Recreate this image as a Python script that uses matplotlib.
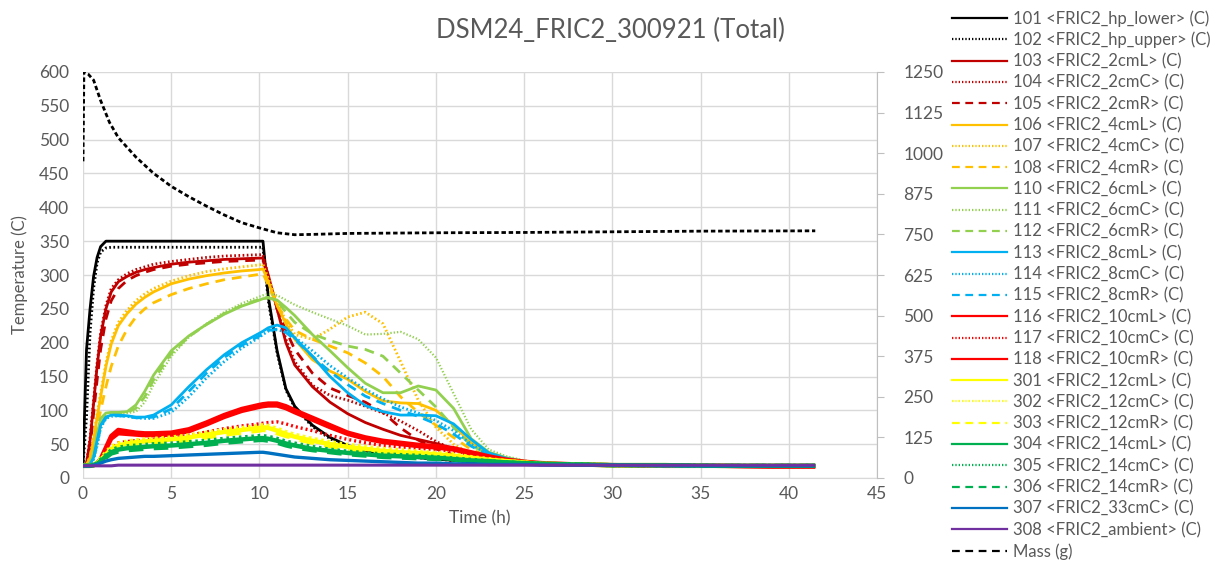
import matplotlib
matplotlib.use("Agg")
import matplotlib.pyplot as plt
from matplotlib.lines import Line2D

plt.rcParams['font.family'] = ['Lato', 'DejaVu Sans']

# ---------------- data ----------------
time_h = [0, 0.2, 0.4, 0.6, 0.8, 1.0, 1.3, 1.6, 2, 2.5, 3, 3.5, 4, 5, 6, 7, 8, 9, 10, 10.2,
          10.5, 11, 11.5, 12, 13, 14, 15, 16, 17, 18, 19, 20, 21, 22, 23, 24, 25, 26, 28, 30,
          33, 36, 39, 41.5]

s101 = [18, 190, 250, 298, 326, 342, 350, 350, 350, 350, 350, 350, 350, 350, 350, 350, 350, 350, 350, 350,
        268, 188, 132, 106, 78, 60, 48, 41, 36, 33, 30, 28, 26, 24, 23, 22, 21, 20, 20, 19, 19, 18, 18, 18]
s102 = [18, 90, 215, 280, 318, 334, 340, 341, 341, 341, 341, 341, 341, 341, 341, 341, 341, 341, 341, 341,
        262, 185, 130, 104, 76, 58, 47, 40, 35, 33, 30, 28, 26, 24, 23, 22, 21, 20, 20, 19, 19, 18, 18, 18]
s103 = [18, 22, 55, 110, 165, 210, 250, 275, 290, 298, 304, 308, 311, 316, 319, 321, 323, 324, 325, 325,
        300, 250, 200, 167, 135, 112, 95, 82, 72, 63, 57, 51, 44, 36, 30, 26, 23, 21, 20, 19, 19, 18, 18, 17]
s104 = [18, 22, 60, 115, 170, 215, 255, 280, 293, 302, 308, 312, 316, 320, 323, 326, 328, 329, 330, 330,
        298, 250, 205, 172, 137, 122, 115, 106, 96, 84, 70, 54, 42, 33, 27, 24, 22, 20, 20, 19, 19, 18, 18, 17]
s105 = [18, 20, 45, 95, 145, 190, 235, 262, 280, 292, 299, 304, 308, 313, 316, 318, 320, 321, 322, 322,
        295, 250, 218, 190, 155, 133, 122, 112, 97, 74, 56, 43, 34, 28, 25, 23, 21, 20, 20, 19, 19, 18, 18, 17]
s106 = [18, 20, 30, 55, 90, 120, 165, 198, 225, 243, 257, 267, 275, 287, 294, 299, 303, 306, 308, 309,
        290, 255, 228, 205, 175, 158, 146, 128, 114, 111, 110, 100, 78, 52, 36, 28, 24, 21, 20, 19, 19, 18, 18, 18]
s107 = [18, 20, 32, 60, 95, 125, 170, 203, 230, 248, 262, 272, 280, 291, 299, 305, 309, 312, 315, 316,
        295, 260, 232, 212, 205, 220, 238, 245, 228, 172, 115, 75, 50, 36, 28, 24, 22, 20, 20, 19, 19, 18, 18, 18]
s108 = [18, 19, 25, 45, 75, 100, 135, 165, 195, 220, 238, 250, 259, 271, 280, 287, 293, 297, 301, 302,
        285, 255, 235, 218, 205, 195, 185, 170, 150, 120, 97, 78, 60, 42, 32, 26, 22, 20, 20, 19, 19, 18, 18, 18]
s110 = [18, 18, 22, 35, 65, 88, 96, 97, 97, 98, 108, 128, 152, 188, 210, 227, 242, 254, 263, 265,
        266, 263, 252, 240, 212, 188, 163, 140, 126, 126, 136, 130, 103, 58, 38, 30, 25, 22, 20, 19, 19, 18, 18, 18]
s111 = [18, 18, 19, 25, 45, 72, 90, 95, 96, 96, 98, 112, 138, 180, 208, 228, 245, 258, 268, 270,
        272, 270, 263, 256, 245, 235, 225, 212, 213, 216, 205, 178, 125, 72, 42, 32, 26, 22, 20, 19, 19, 18, 18, 18]
s112 = [18, 18, 20, 30, 55, 80, 93, 96, 96, 97, 103, 120, 145, 184, 209, 227, 243, 255, 264, 266,
        267, 262, 245, 230, 213, 203, 195, 190, 180, 155, 130, 105, 75, 48, 35, 28, 24, 21, 20, 19, 19, 18, 18, 18]
s113 = [18, 18, 20, 30, 55, 78, 90, 93, 93, 92, 90, 90, 93, 108, 135, 160, 182, 200, 214, 217,
        222, 226, 222, 207, 180, 150, 126, 107, 98, 93, 93, 92, 80, 57, 37, 29, 24, 21, 20, 19, 19, 18, 18, 18]
s114 = [18, 18, 19, 28, 50, 74, 88, 91, 92, 91, 89, 88, 88, 97, 120, 148, 172, 192, 208, 212,
        217, 219, 216, 208, 188, 166, 148, 131, 117, 105, 96, 85, 70, 50, 35, 28, 23, 21, 20, 19, 19, 18, 18, 18]
s115 = [18, 18, 19, 29, 52, 76, 89, 92, 92, 91, 89, 89, 90, 102, 128, 155, 178, 196, 210, 213,
        218, 220, 215, 205, 180, 157, 138, 121, 110, 100, 91, 80, 65, 47, 34, 27, 23, 21, 20, 19, 19, 18, 18, 18]
s116 = [18, 18, 18, 19, 22, 28, 45, 62, 71, 69, 67, 66, 66, 67, 72, 82, 93, 102, 108, 109,
        110, 110, 106, 100, 89, 78, 67, 60, 55, 52, 49, 47, 44, 38, 32, 27, 24, 22, 20, 19, 18, 18, 17, 17]
s117 = [18, 18, 18, 19, 19, 22, 30, 42, 52, 54, 55, 56, 57, 59, 63, 68, 73, 77, 80, 81,
        82, 83, 80, 76, 70, 63, 57, 52, 48, 46, 44, 42, 40, 33, 29, 26, 23, 21, 20, 19, 18, 18, 17, 17]
s118 = [18, 18, 18, 19, 21, 26, 42, 58, 66, 65, 64, 63, 63, 64, 69, 79, 90, 99, 105, 106,
        107, 107, 103, 97, 86, 75, 65, 58, 53, 50, 47, 45, 42, 36, 31, 26, 23, 21, 20, 19, 18, 18, 17, 17]
s301 = [18, 18, 18, 19, 22, 27, 35, 43, 48, 51, 53, 54, 55, 57, 60, 64, 68, 71, 74, 75,
        74, 70, 65, 61, 55, 50, 46, 43, 40, 38, 37, 35, 33, 30, 27, 25, 23, 21, 20, 19, 19, 18, 18, 18]
s302 = [18, 18, 18, 19, 23, 29, 38, 46, 51, 54, 56, 57, 58, 60, 63, 67, 71, 74, 77, 78,
        77, 73, 68, 64, 58, 53, 49, 46, 43, 41, 39, 37, 35, 31, 28, 25, 23, 21, 20, 19, 19, 18, 18, 18]
s303 = [18, 18, 18, 19, 21, 25, 32, 39, 44, 47, 49, 50, 51, 53, 56, 60, 64, 67, 70, 71,
        70, 66, 62, 58, 52, 47, 43, 40, 38, 36, 35, 33, 31, 29, 26, 24, 22, 21, 20, 19, 19, 18, 18, 18]
s304 = [18, 18, 18, 19, 21, 25, 32, 38, 42, 44, 45, 46, 47, 48, 50, 52, 55, 57, 59, 59,
        58, 55, 51, 48, 43, 40, 37, 35, 33, 32, 31, 30, 28, 26, 25, 23, 22, 21, 20, 19, 19, 18, 18, 18]
s305 = [18, 18, 18, 19, 22, 27, 34, 41, 45, 47, 48, 49, 50, 51, 53, 55, 58, 60, 62, 62,
        61, 58, 54, 51, 46, 42, 39, 37, 35, 34, 33, 31, 29, 27, 25, 23, 22, 21, 20, 19, 19, 18, 18, 18]
s306 = [18, 18, 18, 19, 20, 24, 30, 36, 39, 41, 42, 43, 44, 45, 47, 49, 52, 54, 56, 56,
        55, 52, 48, 45, 41, 38, 35, 33, 31, 30, 29, 28, 27, 25, 24, 23, 22, 21, 20, 19, 19, 18, 18, 18]
s307 = [18, 18, 18, 19, 20, 22, 25, 27, 29, 30, 31, 32, 32, 33, 34, 35, 36, 37, 38, 38,
        37, 35, 33, 31, 29, 27, 26, 25, 24, 23, 22, 22, 21, 21, 20, 20, 20, 19, 19, 19, 18, 18, 18, 18]
s308 = [18, 18, 18, 18, 18, 18, 18, 18, 19, 19, 19, 19, 19, 19, 19, 19, 19, 19, 19, 19,
        19, 19, 19, 19, 19, 19, 19, 19, 19, 19, 19, 19, 19, 19, 19, 19, 19, 19, 19, 19, 19, 19, 19, 19]

mass_t = [0, 0.05, 0.3, 0.6, 1.0, 1.5, 2, 3, 4, 5, 6, 7, 8, 9, 10, 11, 12, 13, 15, 20, 25, 30, 35, 41.5]
mass_g = [975, 1250, 1243, 1225, 1162, 1095, 1048, 988, 938, 898, 866, 837, 810, 786, 770, 755, 749,
          750, 753, 755, 756, 758, 760, 761]

labels = ["101 <FRIC2_hp_lower> (C)", "102 <FRIC2_hp_upper> (C)", "103 <FRIC2_2cmL> (C)",
          "104 <FRIC2_2cmC> (C)", "105 <FRIC2_2cmR> (C)", "106 <FRIC2_4cmL> (C)",
          "107 <FRIC2_4cmC> (C)", "108 <FRIC2_4cmR> (C)", "110 <FRIC2_6cmL> (C)",
          "111 <FRIC2_6cmC> (C)", "112 <FRIC2_6cmR> (C)", "113 <FRIC2_8cmL> (C)",
          "114 <FRIC2_8cmC> (C)", "115 <FRIC2_8cmR> (C)", "116 <FRIC2_10cmL> (C)",
          "117 <FRIC2_10cmC> (C)", "118 <FRIC2_10cmR> (C)", "301 <FRIC2_12cmL> (C)",
          "302 <FRIC2_12cmC> (C)", "303 <FRIC2_12cmR> (C)", "304 <FRIC2_14cmL> (C)",
          "305 <FRIC2_14cmC> (C)", "306 <FRIC2_14cmR> (C)", "307 <FRIC2_33cmC> (C)",
          "308 <FRIC2_ambient> (C)"]
mass_label = "Mass (g)"

# ---------------- styles ----------------
series = [s101, s102, s103, s104, s105, s106, s107, s108, s110, s111, s112, s113, s114, s115,
          s116, s117, s118, s301, s302, s303, s304, s305, s306, s307, s308]
colors = ["#000000", "#000000", "#C00000", "#C00000", "#C00000", "#FFC000", "#FFC000", "#FFC000",
          "#92D050", "#92D050", "#92D050", "#00B0F0", "#00B0F0", "#00B0F0", "#FF0000", "#FF0000",
          "#FF0000", "#FFFF00", "#FFFF00", "#FFFF00", "#00B050", "#00B050", "#00B050", "#0070C0",
          "#7030A0"]
DOT = (0, (0.6, 0.9))
DASH = (0, (3.5, 2.5))
styles = ["-", DOT, "-", DOT, DASH, "-", DOT, DASH, "-", DOT, DASH, "-", DOT, DASH,
          "-", DOT, "-", "-", DOT, DASH, "-", DOT, DASH, "-", "-"]
widths = [2.0, 2.0, 2.0, 2.0, 2.0, 2.0, 2.0, 2.0, 2.0, 1.6, 2.0, 2.0, 2.0, 2.0,
          3.2, 2.4, 3.0, 3.2, 3.0, 3.0, 3.2, 3.0, 3.0, 2.4, 2.2]

GRID = "#D9D9D9"
TXT = "#595959"

fig = plt.figure(figsize=(12.28, 5.63), dpi=100)
ax = fig.add_axes([83 / 1228, 1 - 478 / 563, (877 - 83) / 1228, (478 - 72) / 563])
ax2 = ax.twinx()

for vals, c, ls, lw in zip(series, colors, styles, widths):
    ax.plot(time_h, vals, color=c, linestyle=ls, linewidth=lw, solid_capstyle="butt")

ax2.plot(mass_t, mass_g, color="#000000", linestyle=(0, (1.6, 1.0)), linewidth=2.0)

ax.set_xlim(0, 45)
ax.set_ylim(0, 600)
ax.set_xticks(range(0, 46, 5))
ax.set_yticks(range(0, 601, 50))
ax2.set_ylim(0, 1250)
ax2.set_yticks(range(0, 1251, 125))

ax.grid(True, color=GRID, linewidth=1.0)
ax.set_axisbelow(True)
for sp in ["top", "left", "right"]:
    ax.spines[sp].set_visible(False)
ax.spines["bottom"].set_color(GRID)
for sp in ["top", "left", "bottom"]:
    ax2.spines[sp].set_visible(False)
ax2.spines["right"].set_color("#BFBFBF")
ax.tick_params(axis="y", length=0, labelsize=12.5, labelcolor=TXT, pad=10)
ax.tick_params(axis="x", length=0, labelsize=12.5, labelcolor=TXT, pad=6)
ax2.tick_params(axis="y", length=5, color="#BFBFBF", labelsize=12.5, labelcolor=TXT, pad=14)

ax.set_xlabel("Time (h)", fontsize=12.5, color=TXT, labelpad=6)
ax.set_ylabel("Temperature (C)", fontsize=12, color=TXT, labelpad=8)
fig.text(610 / 1228, 1 - 30 / 563, "DSM24_FRIC2_300921 (Total)", fontsize=18.5, color=TXT,
         ha="center", va="center")

handles = [Line2D([], [], color=c, linestyle=ls, linewidth=1.6)
           for c, ls in zip(colors, styles)]
handles.append(Line2D([], [], color="#000000", linestyle=(0, (3.5, 2.5)), linewidth=1.6))
leg = fig.legend(handles, labels + [mass_label], loc="upper left",
                 bbox_to_anchor=(952 / 1228, 1 - 10 / 563), frameon=False, fontsize=12,
                 handlelength=3.3, handletextpad=0.36, labelspacing=0.31, borderaxespad=0,
                 borderpad=0)
for t in leg.get_texts():
    t.set_color(TXT)

fig.savefig("out.png", dpi=100)
